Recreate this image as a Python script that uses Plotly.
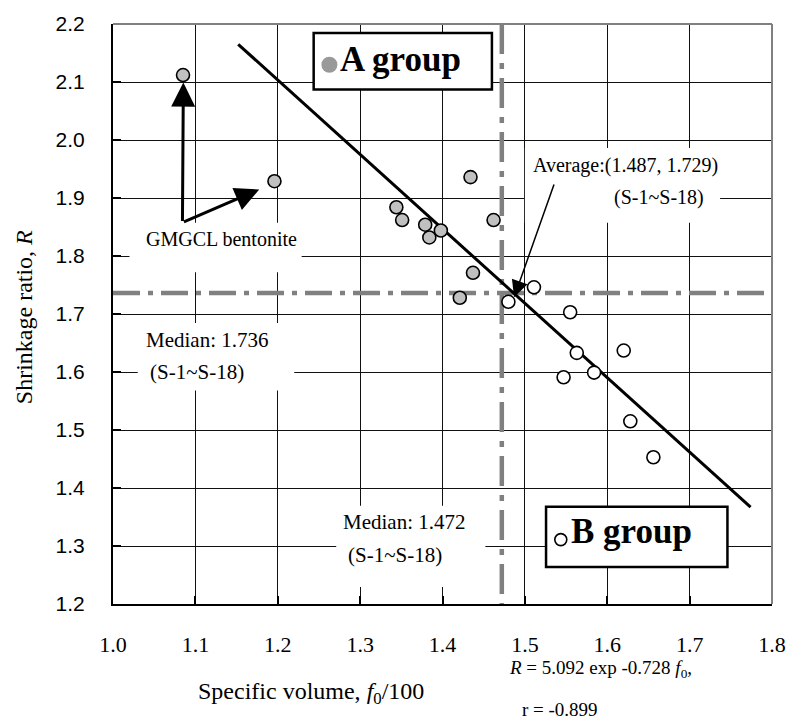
import plotly.graph_objects as go

# ---- data -------------------------------------------------------------
# A group (grey): includes the two GMGCL bentonite samples at the left
a_f0 = [1.085, 1.196, 1.344, 1.351, 1.379, 1.384, 1.398, 1.434, 1.462, 1.437, 1.421]
a_R = [2.112, 1.929, 1.884, 1.862, 1.854, 1.832, 1.844, 1.936, 1.862, 1.771, 1.728]

# B group (open circles)
b_f0 = [1.480, 1.511, 1.555, 1.563, 1.547, 1.584, 1.620, 1.628, 1.656]
b_R = [1.721, 1.746, 1.703, 1.633, 1.591, 1.599, 1.637, 1.515, 1.453]

# regression line end points
fit_f0 = [1.152, 1.774]
fit_R = [2.165, 1.367]

# statistics of S-1~S-18
median_f0 = 1.472
median_R = 1.736
avg_f0, avg_R = 1.487, 1.729

x_ticks = [1.0, 1.1, 1.2, 1.3, 1.4, 1.5, 1.6, 1.7, 1.8]
y_ticks = [1.2, 1.3, 1.4, 1.5, 1.6, 1.7, 1.8, 1.9, 2.0, 2.1, 2.2]

SERIF = "Times New Roman, Liberation Serif, serif"
SANS = "Arial, Liberation Sans, sans-serif"
DASH_GREY = "#808080"

fig = go.Figure()

# median lines (dash-dot)
fig.add_trace(go.Scatter(
    x=[x_ticks[0], x_ticks[-1]], y=[median_R, median_R], mode="lines",
    line=dict(color=DASH_GREY, width=4.5, dash="27px,8px,5px,8px"),
    hoverinfo="skip", showlegend=False))
fig.add_trace(go.Scatter(
    x=[median_f0, median_f0], y=[y_ticks[-1], y_ticks[0]], mode="lines",
    line=dict(color=DASH_GREY, width=4.5, dash="30px,9px,6px,9px"),
    hoverinfo="skip", showlegend=False))

# regression line
fig.add_trace(go.Scatter(
    x=fit_f0, y=fit_R, mode="lines",
    line=dict(color="black", width=3),
    hoverinfo="skip", showlegend=False))

# sample points
fig.add_trace(go.Scatter(
    x=a_f0, y=a_R, mode="markers", name="A group",
    marker=dict(size=13, color="#C0C0C0", line=dict(color="black", width=1.6)),
    showlegend=False))
fig.add_trace(go.Scatter(
    x=b_f0, y=b_R, mode="markers", name="B group",
    marker=dict(size=13, color="white", line=dict(color="black", width=1.6)),
    showlegend=False))

# group key symbols inside the framed labels
fig.add_trace(go.Scatter(
    x=[1.2627], y=[2.1298], mode="markers",
    marker=dict(size=16, color="#999999", line=dict(width=0)),
    hoverinfo="skip", showlegend=False, cliponaxis=False))
fig.add_trace(go.Scatter(
    x=[1.5436], y=[1.311], mode="markers",
    marker=dict(size=12, color="white", line=dict(color="black", width=1.6)),
    hoverinfo="skip", showlegend=False, cliponaxis=False))

shapes = []
# white label backgrounds that interrupt the grid
for x0, x1, y0, y1 in [
    (1.030, 1.220, 1.6846, 1.5682),   # Median: 1.736
    (1.271, 1.452, 1.3695, 1.2291),   # Median: 1.472
    (1.500, 1.737, 1.986, 1.8575),    # Average
    (1.020, 1.229, 1.8575, 1.772),    # GMGCL bentonite
]:
    shapes.append(dict(type="rect", xref="x", yref="y", x0=x0, x1=x1, y0=y0, y1=y1,
                       fillcolor="white", line=dict(width=0), layer="between"))
# framed group labels
shapes.append(dict(type="rect", xref="x", yref="y", x0=1.2436, x1=1.460, y0=2.1846, y1=2.087,
                   fillcolor="white", line=dict(color="black", width=2.5), layer="between"))
shapes.append(dict(type="rect", xref="x", yref="y", x0=1.5257, x1=1.7459, y0=1.3678, y1=1.2639,
                   fillcolor="white", line=dict(color="black", width=2.5), layer="between"))
# grey top and right frame edges
shapes.append(dict(type="line", xref="paper", yref="paper", x0=0, x1=1, y0=1, y1=1,
                   line=dict(color="#808080", width=2), layer="above"))
shapes.append(dict(type="line", xref="paper", yref="paper", x0=1, x1=1, y0=0, y1=1,
                   line=dict(color="#808080", width=2), layer="above"))


def label(text, x, y, size=21, xanchor="left", bold=False, ref="x", **kw):
    t = f"<b>{text}</b>" if bold else text
    xr, yr = ("x", "y") if ref == "x" else ("paper", "paper")
    return dict(text=t, x=x, y=y, xref=xr, yref=yr, showarrow=False,
                xanchor=xanchor, yanchor="middle",
                font=dict(family=SERIF, size=size, color="black"), **kw)


annotations = [
    label("A group", 1.2734, 2.1394, size=35, bold=True),
    label("B group", 1.554, 1.325, size=35, bold=True),
    label("GMGCL bentonite", 1.0382, 1.829, size=20),
    label("Median: 1.736", 1.0382, 1.6555, size=21),
    label("(S-1~S-18)", 1.043, 1.6007, size=21),
    label("Median: 1.472", 1.277, 1.341, size=21),
    label("(S-1~S-18)", 1.283, 1.2839, size=21),
    label(f"Average:({avg_f0:.3f}, {avg_R:.3f})", 1.5075, 1.9568, size=20),
    label("(S-1~S-18)", 1.6054, 1.9003, size=20),
    # regression equation below the plot area
    label("<i>R</i> = 5.092 exp -0.728 <i>f</i><sub>0</sub>,", 0.598, -0.112, size=19, ref="paper"),
    label("r = -0.899", 0.617, -0.182, size=19, ref="paper"),
]

# arrows
for hx, hy in [(1.0854, 2.099), (1.1775, 1.9146)]:
    annotations.append(dict(text="", x=hx, y=hy, xref="x", yref="y",
                            ax=1.0843, ay=1.8579, axref="x", ayref="y",
                            showarrow=True, arrowhead=2, arrowsize=1.6,
                            arrowwidth=3, arrowcolor="black"))
annotations.append(dict(text="", x=avg_f0, y=avg_R, xref="x", yref="y",
                        ax=1.536, ay=1.926, axref="x", ayref="y",
                        showarrow=True, arrowhead=2, arrowsize=2.2,
                        arrowwidth=1.5, arrowcolor="black"))

# axis titles
annotations.append(dict(text="Specific volume, <i>f</i><sub>0</sub>/100",
                        x=0.30, y=-0.153, xref="paper", yref="paper",
                        showarrow=False, xanchor="center", yanchor="middle",
                        font=dict(family=SERIF, size=24, color="black")))
annotations.append(dict(text="Shrinkage ratio, <i>R</i>",
                        x=-0.134, y=0.494, xref="paper", yref="paper",
                        showarrow=False, xanchor="center", yanchor="middle",
                        textangle=-90,
                        font=dict(family=SERIF, size=24, color="black")))

fig.update_layout(
    width=798, height=722,
    margin=dict(l=113, r=15, t=20, b=118),
    plot_bgcolor="white", paper_bgcolor="white",
    shapes=shapes, annotations=annotations,
    showlegend=False,
)

fig.update_xaxes(
    range=[x_ticks[0], x_ticks[-1]], tickvals=x_ticks, tickformat=".1f",
    showgrid=True, gridcolor="#111111", gridwidth=1.4, zeroline=False,
    showline=True, linecolor="black", linewidth=2, mirror=False,
    ticks="inside", ticklen=8, tickwidth=2, tickcolor="black",
    tickfont=dict(family=SERIF, size=22, color="black"),
    ticklabelstandoff=20,
)
fig.update_yaxes(
    range=[y_ticks[0], y_ticks[-1]], tickvals=y_ticks, tickformat=".1f",
    showgrid=True, gridcolor="#111111", gridwidth=1.4, zeroline=False,
    showline=True, linecolor="black", linewidth=2, mirror=False,
    ticks="inside", ticklen=8, tickwidth=2, tickcolor="black",
    tickfont=dict(family=SANS, size=21, color="black"),
    ticklabelstandoff=22,
)

fig.write_html("out.html")
